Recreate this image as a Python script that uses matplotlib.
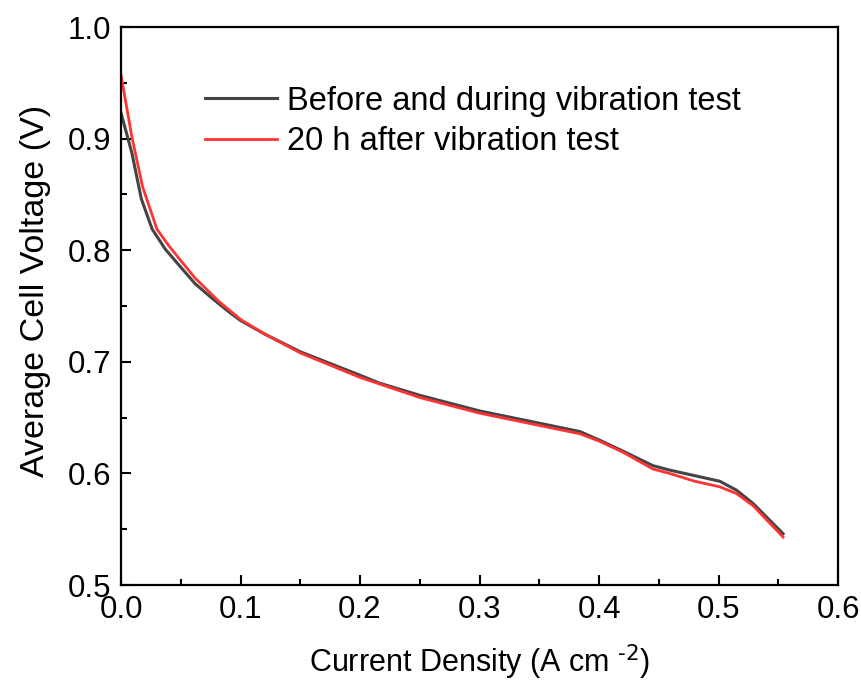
import matplotlib
matplotlib.use("Agg")
import matplotlib.pyplot as plt
from matplotlib.ticker import MultipleLocator

plt.rcParams['font.family'] = ['Liberation Sans', 'DejaVu Sans']
plt.rcParams['mathtext.default'] = 'regular'

x_before = [0.0, 0.009, 0.017, 0.026, 0.037, 0.049, 0.062, 0.075, 0.09, 0.1, 0.12, 0.15, 0.2,
            0.216, 0.25, 0.3, 0.35, 0.384, 0.4, 0.42, 0.445, 0.459, 0.48, 0.501, 0.515, 0.529, 0.554]
v_before = [0.923, 0.8875, 0.846, 0.819, 0.801, 0.786, 0.770, 0.758, 0.745, 0.737, 0.725, 0.709, 0.688,
            0.681, 0.670, 0.656, 0.645, 0.6375, 0.630, 0.620, 0.607, 0.603, 0.598, 0.593, 0.585, 0.573, 0.546]

x_after = [0.0, 0.009, 0.018, 0.030, 0.04, 0.049, 0.062, 0.082, 0.1, 0.12, 0.15, 0.2, 0.25, 0.3,
           0.35, 0.384, 0.4, 0.42, 0.445, 0.459, 0.48, 0.501, 0.515, 0.529, 0.554]
v_after = [0.957, 0.902, 0.857, 0.819, 0.804, 0.792, 0.775, 0.754, 0.738, 0.725, 0.708, 0.686, 0.668, 0.654,
           0.643, 0.6355, 0.629, 0.619, 0.604, 0.600, 0.593, 0.588, 0.582, 0.571, 0.543]

labels = ["Before and during vibration test", "20 h after vibration test"]

fig = plt.figure(figsize=(8.62, 6.84), dpi=100)
ax = fig.add_axes([0.1404, 0.1447, 0.8318, 0.8158])

ax.plot(x_before, v_before, color='#444444', lw=2.2, label=labels[0])
ax.plot(x_after, v_after, color='#ff3333', lw=2.0, label=labels[1])

ax.set_xlim(0, 0.6)
ax.set_ylim(0.5, 1.0)
ax.xaxis.set_major_locator(MultipleLocator(0.1))
ax.xaxis.set_minor_locator(MultipleLocator(0.05))
ax.yaxis.set_major_locator(MultipleLocator(0.1))
ax.yaxis.set_minor_locator(MultipleLocator(0.05))
ax.xaxis.set_major_formatter(plt.FuncFormatter(lambda v, p: f"{v:.1f}"))
ax.yaxis.set_major_formatter(plt.FuncFormatter(lambda v, p: f"{v:.1f}"))

ax.tick_params(which='both', direction='in', top=False, right=False, labelsize=22.5, width=1.5)
ax.tick_params(which='major', length=7)
ax.tick_params(which='minor', length=4)
ax.tick_params(axis='x', which='major', pad=7)
ax.tick_params(axis='y', which='major', pad=7)
for s in ax.spines.values():
    s.set_linewidth(1.6)

ax.set_xlabel("Current Density (A cm $^{\\text{-2}}$)", fontsize=22, labelpad=13)
ax.set_ylabel("Average Cell Voltage (V)", fontsize=24.5, labelpad=12, y=0.527)

ax.legend(loc='upper left', bbox_to_anchor=(0.117, 0.895), frameon=False, fontsize=23.5,
          borderpad=0, borderaxespad=0, handlelength=2.2, handletextpad=0.3, labelspacing=0.3)

fig.savefig("out.png", dpi=100)
